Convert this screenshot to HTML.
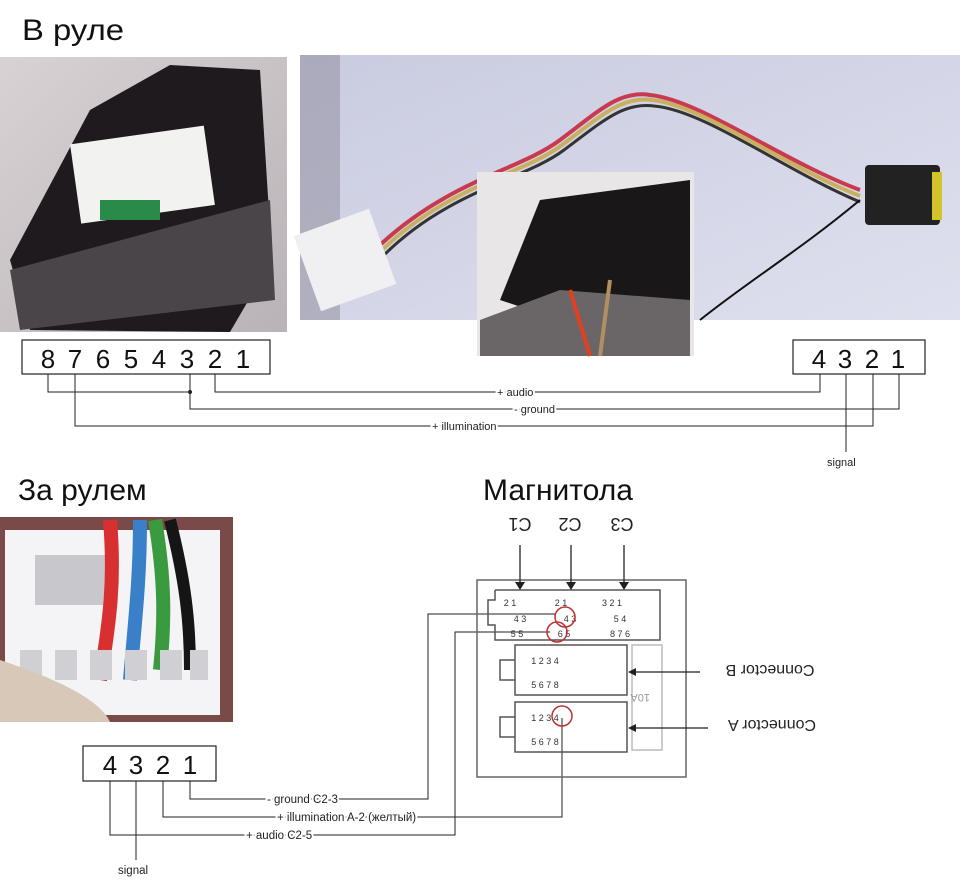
<!DOCTYPE html>
<html><head><meta charset="utf-8"><style>
body{margin:0;background:#fff;width:960px;height:878px;overflow:hidden;font-family:"Liberation Sans","Noto Sans CJK SC",sans-serif}
.lb{paint-order:stroke;stroke:#fff;stroke-width:4px;stroke-linejoin:round}
</style></head><body>
<svg width="960" height="878" viewBox="0 0 960 878" xmlns="http://www.w3.org/2000/svg" font-family="Liberation Sans, DejaVu Sans, sans-serif">
<defs>
<linearGradient id="g1" x1="0" y1="0" x2="1" y2="1"><stop offset="0" stop-color="#d8d2d4"/><stop offset="1" stop-color="#b9b2b6"/></linearGradient>
<linearGradient id="g2" x1="0" y1="0" x2="1" y2="1"><stop offset="0" stop-color="#c9cbe0"/><stop offset="1" stop-color="#dfe0ee"/></linearGradient>
</defs>
<text x="22" y="40" font-size="30" fill="#111" textLength="102" lengthAdjust="spacingAndGlyphs">В руле</text>
<text x="18" y="500" font-size="30" fill="#111">За рулем</text>
<text x="483" y="500" font-size="30" fill="#111">Магнитола</text>

<!-- top-left photo -->
<rect x="0" y="57" width="287" height="275" fill="url(#g1)"/>
<polygon points="30,330 10,260 90,110 170,65 260,70 272,260 230,332" fill="#1e1a1e"/>
<polygon points="10,270 270,200 275,300 20,330" fill="#4a4548"/>
<rect x="75" y="135" width="135" height="80" fill="#f2f2f0" transform="rotate(-8 140 175)"/>
<rect x="100" y="200" width="60" height="20" fill="#2a8a4a"/>

<!-- top-right photo -->
<rect x="300" y="55" width="660" height="265" fill="url(#g2)"/>
<rect x="300" y="55" width="40" height="265" fill="#8b8a9a" opacity="0.5"/>
<path d="M380,245 C450,180 520,170 560,140 C600,110 620,90 650,95 C700,100 780,160 860,190" stroke="#c83a50" stroke-width="4" fill="none"/>
<path d="M382,250 C450,185 522,175 562,145 C602,115 622,96 652,100 C702,105 782,165 860,196" stroke="#c9b060" stroke-width="4" fill="none"/>
<path d="M384,255 C450,190 524,180 564,150 C604,120 624,102 654,106 C704,110 784,170 860,202" stroke="#333" stroke-width="3" fill="none"/>
<path d="M860,200 C800,250 750,280 700,320" stroke="#111" stroke-width="2" fill="none"/>
<rect x="305" y="220" width="80" height="80" fill="#f0f0f2" transform="rotate(-20 345 260)"/>
<rect x="865" y="165" width="75" height="60" fill="#222" rx="4"/>
<rect x="932" y="172" width="10" height="48" fill="#d4c22a"/>
<!-- inset -->
<rect x="477" y="172" width="217" height="184" fill="#e8e6e6"/>
<polygon points="500,300 540,200 690,180 690,300 560,320" fill="#1a1718"/>
<polygon points="480,320 560,290 690,300 690,356 480,356" fill="#6a6668"/>
<path d="M570,290 L590,356" stroke="#e04020" stroke-width="4"/>
<path d="M610,280 L600,356" stroke="#b09060" stroke-width="4"/>

<!-- bottom-left photo -->
<rect x="0" y="517" width="233" height="205" fill="#7a4a48"/>
<rect x="5" y="530" width="215" height="185" fill="#f4f4f6"/>
<rect x="35" y="555" width="80" height="50" fill="#c8c8cc"/>
<path d="M110,520 C115,580 110,620 100,680" stroke="#d83030" stroke-width="14" fill="none"/>
<path d="M140,520 C140,580 135,620 130,680" stroke="#3a80c8" stroke-width="14" fill="none"/>
<path d="M155,520 C165,580 165,620 160,670" stroke="#3a9a40" stroke-width="14" fill="none"/>
<path d="M170,520 C185,580 190,620 190,670" stroke="#151515" stroke-width="12" fill="none"/>
<g fill="#d0d0d4"><rect x="20" y="650" width="22" height="30"/><rect x="55" y="650" width="22" height="30"/><rect x="90" y="650" width="22" height="30"/><rect x="125" y="650" width="22" height="30"/><rect x="160" y="650" width="22" height="30"/><rect x="190" y="650" width="18" height="30"/></g>
<path d="M0,660 C60,680 100,700 110,722 L0,722 Z" fill="#d8c8b8"/>

<!-- top boxes -->
<rect x="22" y="340" width="248" height="34" fill="#fff" stroke="#222" stroke-width="1.2"/>
<rect x="793" y="340" width="132" height="34" fill="#fff" stroke="#222" stroke-width="1.2"/>
<g font-size="26" fill="#111" text-anchor="middle">
<text x="48" y="368">8</text><text x="75" y="368">7</text><text x="103" y="368">6</text><text x="131" y="368">5</text><text x="159" y="368">4</text><text x="187" y="368">3</text><text x="215" y="368">2</text><text x="243" y="368">1</text>
<text x="819" y="368">4</text><text x="845" y="368">3</text><text x="872" y="368">2</text><text x="898" y="368">1</text>
</g>
<g stroke="#222" stroke-width="1" fill="none">
<polyline points="48,374 48,392 190,392"/>
<polyline points="215,374 215,392 820,392 820,374"/>
<polyline points="190,374 190,409 899,409 899,374"/>
<polyline points="75,374 75,426 873,426 873,374"/>
<line x1="846" y1="374" x2="846" y2="452"/>
</g>
<circle cx="190" cy="392" r="2" fill="#222"/>
<g font-size="11" fill="#222">
<text class="lb" x="497" y="396">+ audio</text><text class="lb" x="514" y="413">- ground</text><text class="lb" x="432" y="430">+ illumination</text>
<text x="827" y="466">signal</text>
</g>

<!-- bottom box -->
<rect x="83" y="746" width="133" height="35" fill="#fff" stroke="#222" stroke-width="1.2"/>
<g font-size="26" fill="#111" text-anchor="middle"><text x="110" y="774">4</text><text x="136" y="774">3</text><text x="163" y="774">2</text><text x="190" y="774">1</text></g>
<g stroke="#222" stroke-width="1" fill="none">
<polyline points="190,781 190,799 428,799 428,614 556,614"/>
<polyline points="163,781 163,817 562,817 562,718"/>
<polyline points="110,781 110,835 455,835 455,632 550,632"/>
<line x1="136" y1="781" x2="136" y2="860"/>
</g>
<g font-size="11.5" fill="#222">
<text class="lb" x="267" y="803">- ground C2-3</text><text class="lb" x="277" y="821">+ illumination A-2 (желтый)</text><text class="lb" x="246" y="839">+ audio C2-5</text>
<text x="118" y="874">signal</text>
</g>

<!-- connector diagram -->
<g stroke="#555" fill="none" stroke-width="1.5">
<rect x="477" y="580" width="209" height="197" stroke="#666"/>
<polyline points="495,590 660,590 660,640 495,640 495,625 488,625 488,600 495,600 495,590"/>
<rect x="515" y="645" width="112" height="50"/>
<rect x="515" y="702" width="112" height="50"/>
<polyline points="515,660 500,660 500,680 515,680" /><polyline points="515,717 500,717 500,737 515,737"/>
<rect x="632" y="645" width="30" height="105" stroke="#bbb"/>
</g>
<text x="650" y="700" font-size="11" fill="#999" transform="rotate(180 650 697)">10A</text>
<g font-size="18" fill="#222" text-anchor="middle">
<text x="520" y="530" transform="rotate(180 520 524)">C1</text>
<text x="570" y="530" transform="rotate(180 570 524)">C2</text>
<text x="622" y="530" transform="rotate(180 622 524)">C3</text>
<text x="770" y="675" font-size="16" transform="rotate(180 770 670)">Connector B</text>
<text x="772" y="730" font-size="16" transform="rotate(180 772 725)">Connector A</text>
</g>
<g stroke="#222" stroke-width="1.3">
<line x1="520" y1="545" x2="520" y2="585"/><line x1="571" y1="545" x2="571" y2="585"/><line x1="624" y1="545" x2="624" y2="585"/>
<line x1="700" y1="672" x2="630" y2="672"/><line x1="708" y1="728" x2="630" y2="728"/>
</g>
<g fill="#222"><polygon points="515,582 525,582 520,590"/><polygon points="566,582 576,582 571,590"/><polygon points="619,582 629,582 624,590"/>
<polygon points="628,672 636,668 636,676"/><polygon points="628,728 636,724 636,732"/></g>
<g font-size="9" fill="#333" text-anchor="middle">
<text x="510" y="606">2 1</text><text x="561" y="606">2 1</text><text x="612" y="606">3 2 1</text>
<text x="520" y="622">4 3</text><text x="570" y="622">4 3</text><text x="620" y="622">5 4</text>
<text x="517" y="637">5 5</text><text x="564" y="637">6 5</text><text x="620" y="637">8 7 6</text>
<text x="545" y="664">1   2   3   4</text><text x="545" y="688">5   6   7   8</text>
<text x="545" y="721">1   2   3   4</text><text x="545" y="745">5   6   7   8</text>
</g>
<g fill="none" stroke="#c03030" stroke-width="1.5"><circle cx="565" cy="617" r="10"/><circle cx="557" cy="632" r="10"/><circle cx="562" cy="716" r="10"/></g>
</svg>
</body></html>
